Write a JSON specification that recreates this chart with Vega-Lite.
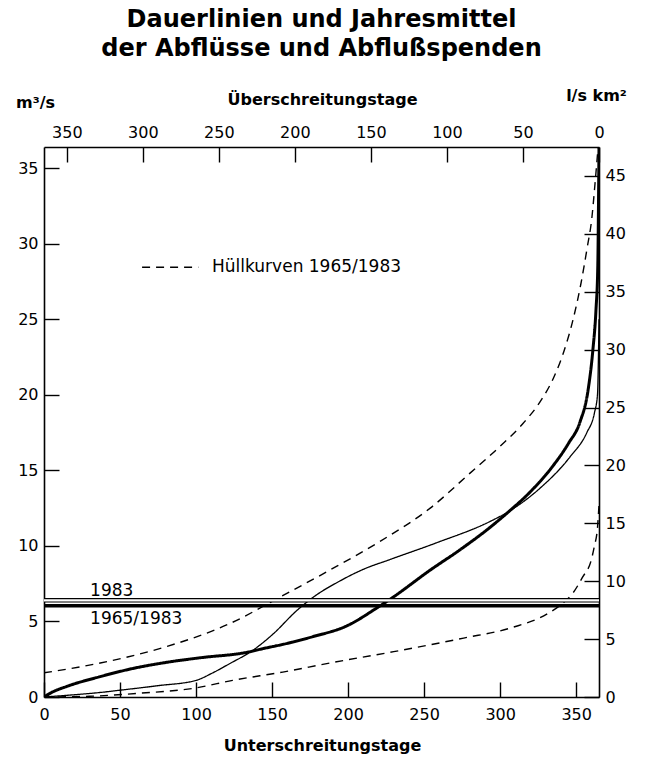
{
  "$schema": "https://vega.github.io/schema/vega-lite/v6.json",
  "width": 555,
  "height": 550,
  "autosize": {"type": "none"},
  "padding": {"left": 44, "top": 147, "right": 55, "bottom": 69},
  "background": "white",
  "config": {
    "view": {"stroke": null},
    "font": "DejaVu Sans",
    "axis": {
      "domainColor": "black",
      "domainWidth": 1.6,
      "tickColor": "black",
      "tickWidth": 1.4,
      "tickSize": -15,
      "labelPadding": 21,
      "labelFont": "DejaVu Sans",
      "labelFontSize": 16,
      "labelColor": "black",
      "titleFont": "DejaVu Sans",
      "titleFontSize": 16,
      "titleFontWeight": "bold",
      "titleColor": "black",
      "grid": false,
      "labelFlush": false,
      "labelOverlap": false
    }
  },
  "title": {
    "text": ["Dauerlinien und Jahresmittel", "der Abflüsse und Abflußspenden"],
    "font": "DejaVu Sans",
    "fontSize": 24,
    "fontWeight": "bold",
    "color": "black",
    "anchor": "middle",
    "lineHeight": 29,
    "offset": 26
  },
  "datasets": {
    "lines": [
      {"series": "dl6583", "day": 0, "q": 0},
      {"series": "dl6583", "day": 5, "q": 0.3},
      {"series": "dl6583", "day": 15, "q": 0.7},
      {"series": "dl6583", "day": 37, "q": 1.35},
      {"series": "dl6583", "day": 59, "q": 1.9},
      {"series": "dl6583", "day": 81, "q": 2.3},
      {"series": "dl6583", "day": 103, "q": 2.6},
      {"series": "dl6583", "day": 133, "q": 2.95},
      {"series": "dl6583", "day": 144, "q": 3.2},
      {"series": "dl6583", "day": 160, "q": 3.55},
      {"series": "dl6583", "day": 177, "q": 4.0},
      {"series": "dl6583", "day": 199, "q": 4.7},
      {"series": "dl6583", "day": 219, "q": 5.9},
      {"series": "dl6583", "day": 229.5, "q": 6.6},
      {"series": "dl6583", "day": 254, "q": 8.4},
      {"series": "dl6583", "day": 273, "q": 9.7},
      {"series": "dl6583", "day": 293, "q": 11.2},
      {"series": "dl6583", "day": 306, "q": 12.3},
      {"series": "dl6583", "day": 320, "q": 13.6},
      {"series": "dl6583", "day": 334, "q": 15.2},
      {"series": "dl6583", "day": 345, "q": 16.8},
      {"series": "dl6583", "day": 352.5, "q": 18.2},
      {"series": "dl6583", "day": 357.8, "q": 20.3},
      {"series": "dl6583", "day": 361, "q": 23},
      {"series": "dl6583", "day": 363, "q": 25.6},
      {"series": "dl6583", "day": 364.2, "q": 28.5},
      {"series": "dl6583", "day": 364.7, "q": 33},
      {"series": "dl6583", "day": 365, "q": 36.4},
      {"series": "dl1983", "day": 0, "q": 0},
      {"series": "dl1983", "day": 20, "q": 0.15},
      {"series": "dl1983", "day": 37, "q": 0.3},
      {"series": "dl1983", "day": 50, "q": 0.45},
      {"series": "dl1983", "day": 75, "q": 0.75},
      {"series": "dl1983", "day": 100, "q": 1.1},
      {"series": "dl1983", "day": 111, "q": 1.6},
      {"series": "dl1983", "day": 122, "q": 2.2},
      {"series": "dl1983", "day": 137.5, "q": 3.1},
      {"series": "dl1983", "day": 151, "q": 4.2},
      {"series": "dl1983", "day": 166, "q": 5.7},
      {"series": "dl1983", "day": 177, "q": 6.6},
      {"series": "dl1983", "day": 195, "q": 7.7},
      {"series": "dl1983", "day": 210, "q": 8.45},
      {"series": "dl1983", "day": 227.6, "q": 9.1},
      {"series": "dl1983", "day": 258, "q": 10.2},
      {"series": "dl1983", "day": 293, "q": 11.6},
      {"series": "dl1983", "day": 306, "q": 12.3},
      {"series": "dl1983", "day": 326, "q": 13.8},
      {"series": "dl1983", "day": 346, "q": 15.9},
      {"series": "dl1983", "day": 357, "q": 17.5},
      {"series": "dl1983", "day": 362, "q": 18.8},
      {"series": "dl1983", "day": 364, "q": 20},
      {"series": "dl1983", "day": 365, "q": 25},
      {"series": "h_upper", "day": 0, "q": 1.6},
      {"series": "h_upper", "day": 37, "q": 2.25},
      {"series": "h_upper", "day": 81, "q": 3.35},
      {"series": "h_upper", "day": 122, "q": 4.85},
      {"series": "h_upper", "day": 155, "q": 6.6},
      {"series": "h_upper", "day": 188, "q": 8.4},
      {"series": "h_upper", "day": 221, "q": 10.3},
      {"series": "h_upper", "day": 254, "q": 12.5},
      {"series": "h_upper", "day": 280, "q": 14.8},
      {"series": "h_upper", "day": 300, "q": 16.6},
      {"series": "h_upper", "day": 315, "q": 18.1},
      {"series": "h_upper", "day": 326, "q": 19.5},
      {"series": "h_upper", "day": 335, "q": 21.1},
      {"series": "h_upper", "day": 342, "q": 22.9},
      {"series": "h_upper", "day": 348, "q": 25},
      {"series": "h_upper", "day": 353, "q": 27.3},
      {"series": "h_upper", "day": 357, "q": 29.6},
      {"series": "h_upper", "day": 360.4, "q": 31.8},
      {"series": "h_upper", "day": 362.4, "q": 34},
      {"series": "h_upper", "day": 364.4, "q": 36.4},
      {"series": "h_lower", "day": 0, "q": 0},
      {"series": "h_lower", "day": 30, "q": 0.05},
      {"series": "h_lower", "day": 63, "q": 0.25},
      {"series": "h_lower", "day": 100, "q": 0.6},
      {"series": "h_lower", "day": 124, "q": 1.1},
      {"series": "h_lower", "day": 157, "q": 1.65},
      {"series": "h_lower", "day": 188, "q": 2.25},
      {"series": "h_lower", "day": 230, "q": 3.0},
      {"series": "h_lower", "day": 276, "q": 3.9},
      {"series": "h_lower", "day": 308, "q": 4.6},
      {"series": "h_lower", "day": 331, "q": 5.5},
      {"series": "h_lower", "day": 341, "q": 6.2},
      {"series": "h_lower", "day": 348, "q": 6.9},
      {"series": "h_lower", "day": 354, "q": 7.9},
      {"series": "h_lower", "day": 360, "q": 9.1},
      {"series": "h_lower", "day": 362, "q": 10.0},
      {"series": "h_lower", "day": 364, "q": 11.2},
      {"series": "h_lower", "day": 365, "q": 12.7},
      {"series": "m1983", "day": 0, "q": 6.4},
      {"series": "m1983", "day": 365, "q": 6.4},
      {"series": "m1983_inner", "day": 0, "q": 6.4},
      {"series": "m1983_inner", "day": 365, "q": 6.4},
      {"series": "m6583", "day": 0, "q": 6.04},
      {"series": "m6583", "day": 365, "q": 6.04},
      {"series": "legend", "day": 64.5, "q": 28.44},
      {"series": "legend", "day": 101.5, "q": 28.44}
    ],
    "labels": [
      {"day": 30.3, "q": 7.02, "label": "1983"},
      {"day": 30.3, "q": 5.16, "label": "1965/1983"},
      {"day": 110.5, "q": 28.46, "label": "Hüllkurven 1965/1983"}
    ],
    "secondary": [
      {"ueber": 0, "spende": 0}
    ]
  },
  "layer": [
    {
      "layer": [
        {
          "data": {"name": "lines"},
          "mark": {"type": "line", "interpolate": "monotone", "clip": true},
          "encoding": {
            "x": {
              "field": "day", "type": "quantitative",
              "scale": {"domain": [0, 365], "nice": false, "zero": false},
              "axis": {
                "orient": "bottom",
                "values": [0, 50, 100, 150, 200, 250, 300, 350],
                "labelPadding": 24,
                "title": "Unterschreitungstage",
                "titleX": 278, "titleY": 48, "titleBaseline": "middle", "titleAlign": "center"
              }
            },
            "y": {
              "field": "q", "type": "quantitative",
              "scale": {"domain": [0, 36.4], "nice": false, "zero": false},
              "axis": {
                "orient": "left",
                "values": [0, 5, 10, 15, 20, 25, 30, 35],
                "labelPadding": 21,
                "title": "m³/s",
                "titleAngle": 0, "titleX": -9, "titleY": -45,
                "titleAlign": "center", "titleBaseline": "middle",
                "titleFontWeight": "bold"
              }
            },
            "order": {"field": "day", "type": "quantitative"},
            "detail": {"field": "series", "type": "nominal"},
            "color": {
              "field": "series", "type": "nominal",
              "scale": {"type": "ordinal", "domain": ["dl6583", "dl1983", "h_upper", "h_lower", "m1983", "m1983_inner", "m6583", "legend"], "range": ["black", "black", "black", "black", "black", "white", "black", "black"]},
              "legend": null
            },
            "strokeWidth": {
              "field": "series", "type": "nominal",
              "scale": {"type": "ordinal", "domain": ["dl6583", "dl1983", "h_upper", "h_lower", "m1983", "m1983_inner", "m6583", "legend"], "range": [3, 1.3, 1.4, 1.4, 4.4, 2.2, 3.6, 1.4]},
              "legend": null
            },
            "strokeDash": {
              "field": "series", "type": "nominal",
              "scale": {"type": "ordinal", "domain": ["dl6583", "dl1983", "h_upper", "h_lower", "m1983", "m1983_inner", "m6583", "legend"], "range": [[1, 0], [1, 0], [8, 6], [8, 6], [1, 0], [1, 0], [1, 0], [8, 6]]},
              "legend": null
            }
          }
        },
        {
          "data": {"name": "labels"},
          "mark": {"type": "text", "align": "left", "baseline": "middle", "font": "DejaVu Sans", "fontSize": 17, "color": "black"},
          "encoding": {
            "x": {"field": "day", "type": "quantitative", "scale": {"domain": [0, 365], "nice": false, "zero": false}},
            "y": {"field": "q", "type": "quantitative", "scale": {"domain": [0, 36.4], "nice": false, "zero": false}},
            "text": {"field": "label", "type": "nominal"}
          }
        }
      ]
    },
    {
      "data": {"name": "secondary"},
      "mark": {"type": "point", "opacity": 0},
      "encoding": {
        "x": {
          "field": "ueber", "type": "quantitative",
          "scale": {"domain": [0, 365], "nice": false, "zero": false, "reverse": true},
          "axis": {
            "orient": "top",
            "values": [0, 50, 100, 150, 200, 250, 300, 350],
            "labelPadding": 22,
            "title": "Überschreitungstage",
            "titleX": 278, "titleY": -48, "titleBaseline": "middle", "titleAlign": "center"
          }
        },
        "y": {
          "field": "spende", "type": "quantitative",
          "scale": {"domain": [0, 47.5], "nice": false, "zero": false},
          "axis": {
            "orient": "right",
            "values": [0, 5, 10, 15, 20, 25, 30, 35, 40, 45],
            "labelPadding": 21,
            "title": "l/s km²",
            "titleAngle": 0, "titleX": -3, "titleY": -52,
            "titleAlign": "center", "titleBaseline": "middle"
          }
        }
      }
    }
  ],
  "resolve": {"scale": {"x": "independent", "y": "independent"}, "axis": {"x": "independent", "y": "independent"}}
}
